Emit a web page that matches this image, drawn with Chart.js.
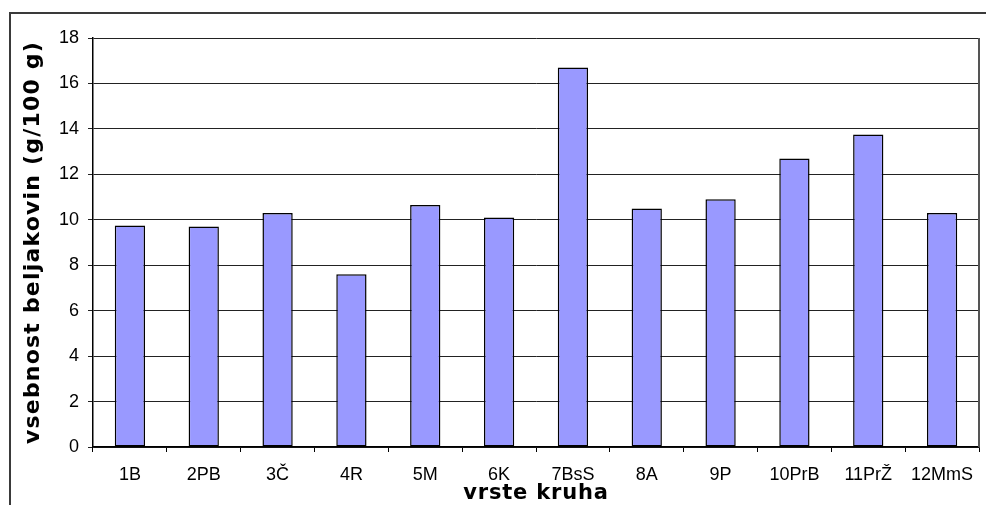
<!DOCTYPE html>
<html>
<head>
<meta charset="utf-8">
<script src="https://cdn.jsdelivr.net/npm/chart.js@4/dist/chart.umd.min.js"></script>
<style>
  html, body { margin: 0; padding: 0; background: #fff; }
  #wrap { position: relative; width: 986px; height: 505px; overflow: hidden; }
  #frame { position: absolute; left: 9px; top: 12px; width: 1000px; height: 600px;
           border-top: 2px solid #3a3a3a; border-left: 2px solid #3a3a3a; }
  #c { position: absolute; left: 0; top: 0; }
</style>
</head>
<body>
<div id="wrap">
  <div id="frame"></div>
  <canvas id="c" width="986" height="505"></canvas>
</div>
<script>
// Bread types and their protein content (g per 100 g)
const categories = ['1B', '2PB', '3Č', '4R', '5M', '6K', '7BsS', '8A', '9P', '10PrB', '11PrŽ', '12MmS'];
const protein = [9.75, 9.7, 10.3, 7.6, 10.65, 10.1, 16.7, 10.5, 10.9, 12.7, 13.75, 10.3];
const yTicks = [0, 2, 4, 6, 8, 10, 12, 14, 16, 18];

const xTitle = 'vrste kruha';
const yTitle = 'vsebnost beljakovin (g/100 g)';

// Letter spacing for the axis titles
const titleSpacing = { x: '0.8px', y: '1.2px' };
const spacingPlugin = {
  id: 'spacing',
  beforeDraw(chart) {
    Object.values(chart.scales).forEach(s => {
      if (s._spacedTitle) return;
      const orig = s.drawTitle;
      s.drawTitle = function (...args) {
        const ctx = this.ctx;
        const prev = ctx.letterSpacing;
        ctx.letterSpacing = titleSpacing[this.id] || '0px';
        orig.apply(this, args);
        ctx.letterSpacing = prev;
      };
      s._spacedTitle = true;
    });
  }
};

// Right edge of the plot frame
const frameRight = {
  id: 'frameRight',
  beforeDatasetsDraw(chart) {
    const { ctx, chartArea } = chart;
    ctx.save();
    ctx.strokeStyle = '#555';
    ctx.lineWidth = 2;
    ctx.beginPath();
    ctx.moveTo(chartArea.right, chartArea.top);
    ctx.lineTo(chartArea.right, chartArea.bottom);
    ctx.stroke();
    ctx.restore();
  }
};

const labelFont = { family: 'Liberation Sans, Arial, sans-serif', size: 18 };
const titleFont = { family: 'DejaVu Sans, sans-serif', weight: 'bold' };

new Chart(document.getElementById('c'), {
  type: 'bar',
  data: {
    labels: categories,
    datasets: [{
      data: protein,
      backgroundColor: '#9999FF',
      borderColor: '#000',
      borderWidth: 1.5,
      borderSkipped: false,
      categoryPercentage: 1,
      barPercentage: 0.41
    }]
  },
  options: {
    responsive: false,
    devicePixelRatio: 1,
    animation: false,
    layout: { padding: { top: 38, right: 7, left: 0, bottom: 0 } },
    plugins: { legend: { display: false }, tooltip: { enabled: false } },
    scales: {
      x: {
        afterFit(s) { s.height = 58; },
        grid: { display: true, drawOnChartArea: false, tickLength: 5, color: '#000', lineWidth: 1 },
        border: { display: true, color: '#000', width: 1.5 },
        ticks: { color: '#000', padding: 12, maxRotation: 0, autoSkip: false, font: labelFont },
        title: { display: true, text: xTitle, color: '#000', padding: { top: 0, bottom: -1 },
                 font: { ...titleFont, size: 21 } }
      },
      y: {
        min: 0, max: 18,
        afterFit(s) { s.width = 93; },
        afterBuildTicks(s) { s.ticks = yTicks.map(v => ({ value: v })); },
        grid: { color: '#222', lineWidth: 1, tickLength: 5 },
        border: { display: true, color: '#000', width: 1.5 },
        ticks: { color: '#000', padding: 9, font: labelFont },
        title: { display: true, text: yTitle, color: '#000', padding: { top: 20, bottom: 0 },
                 font: { ...titleFont, size: 22 } }
      }
    }
  },
  plugins: [spacingPlugin, frameRight]
});
</script>
</body>
</html>
